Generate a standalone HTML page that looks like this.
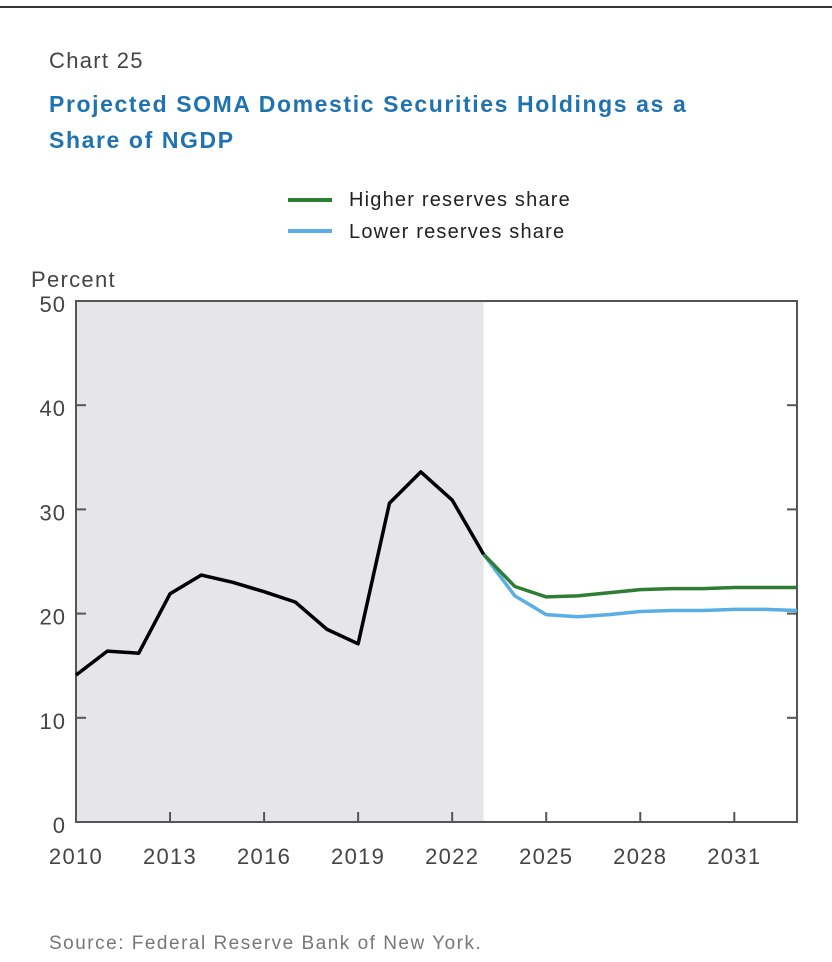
<!DOCTYPE html>
<html><head><meta charset="utf-8"><style>
body{margin:0;background:#fff;width:832px;height:962px;overflow:hidden;font-family:"Liberation Sans",sans-serif}
</style></head><body>
<svg width="832" height="962" style="position:absolute;left:0;top:0">
<line x1="0" y1="7" x2="832" y2="7" stroke="#333" stroke-width="2"/>
<text x="49" y="68" font-size="22" fill="#444" letter-spacing="1.3">Chart 25</text>
<text x="49" y="112" font-size="23" font-weight="bold" fill="#1f73b0" letter-spacing="1.6">Projected SOMA Domestic Securities Holdings as a</text>
<text x="49" y="148" font-size="23" font-weight="bold" fill="#1f73b0" letter-spacing="1.6">Share of NGDP</text>
<g>
<line x1="288" y1="200" x2="332" y2="200" stroke="#2e7d32" stroke-width="4"/>
<text x="349" y="206" font-size="20" fill="#222" letter-spacing="1.2">Higher reserves share</text>
<line x1="288" y1="231" x2="332" y2="231" stroke="#5aaee6" stroke-width="4"/>
<text x="349" y="238" font-size="20" fill="#222" letter-spacing="1.2">Lower reserves share</text>
</g>
<text x="31" y="287" font-size="22" fill="#444" letter-spacing="1.3">Percent</text>
<g id="plot"></g>
<text x="49" y="949" font-size="19" fill="#777" letter-spacing="1.5">Source: Federal Reserve Bank of New York.</text>
</svg>
<script>
const years=[2010,2011,2012,2013,2014,2015,2016,2017,2018,2019,2020,2021,2022,2023];
const history=[14.1,16.4,16.2,21.9,23.7,23.0,22.1,21.1,18.5,17.1,30.6,33.6,30.9,25.7];
const projYears=[2023,2024,2025,2026,2027,2028,2029,2030,2031,2032,2033];
const higher=[25.7,22.6,21.6,21.7,22.0,22.3,22.4,22.4,22.5,22.5,22.5];
const lower=[25.7,21.7,19.9,19.7,19.9,20.2,20.3,20.3,20.4,20.4,20.3];
const yTicks=[0,10,20,30,40,50];
const xTicks=[2010,2013,2016,2019,2022,2025,2028,2031];
const NS="http://www.w3.org/2000/svg";
const X0=76,X1=797,Y0=822,Y1=301,xMin=2010,xMax=2033,yMin=0,yMax=50;
const sx=v=>X0+(v-xMin)/(xMax-xMin)*(X1-X0);
const sy=v=>Y0-(v-yMin)/(yMax-yMin)*(Y0-Y1);
const g=document.getElementById('plot');
function mk(t,a){const e=document.createElementNS(NS,t);for(const k in a)e.setAttribute(k,a[k]);g.appendChild(e);return e;}
let e=mk('rect',{x:X0,y:Y1,width:sx(2023)-X0,height:Y0-Y1,fill:'#e6e6e8'});


e=mk('path',{d:`M${X0},${Y0}V${Y1}H${X1}V${Y0}Z`,fill:'none',stroke:'#555','stroke-width':2});


yTicks.forEach(v=>{
 if(v>yMin&&v<yMax){
  e=mk('line',{x1:X0,x2:X0+10,y1:sy(v),y2:sy(v),stroke:'#555','stroke-width':2});
  
  
  e=mk('line',{x1:X1-10,x2:X1,y1:sy(v),y2:sy(v),stroke:'#555','stroke-width':2});
  
  
 }
 e=mk('text',{x:66,y:sy(v)+11,'font-size':22,fill:'#444','text-anchor':'end','letter-spacing':1});
 e.textContent=v;
 
 
});
xTicks.forEach(v=>{
 e=mk('text',{x:sx(v),y:864,'font-size':22,fill:'#444','text-anchor':'middle','letter-spacing':1.3});
 e.textContent=v;
 
 
 e=mk('line',{x1:sx(v),x2:sx(v),y1:Y0-10,y2:Y0,stroke:'#555','stroke-width':2});
 
 
});
function line(xs,ys,c){return mk('path',{d:xs.map((x,i)=>(i?'L':'M')+sx(x)+','+sy(ys[i])).join(''),fill:'none',stroke:c,'stroke-width':3.5,'stroke-linejoin':'round'});}
e=line(projYears,lower,'#5aaee6');


e=line(projYears,higher,'#2e7d32');


e=line(years,history,'#000');


</script>
</body></html>
